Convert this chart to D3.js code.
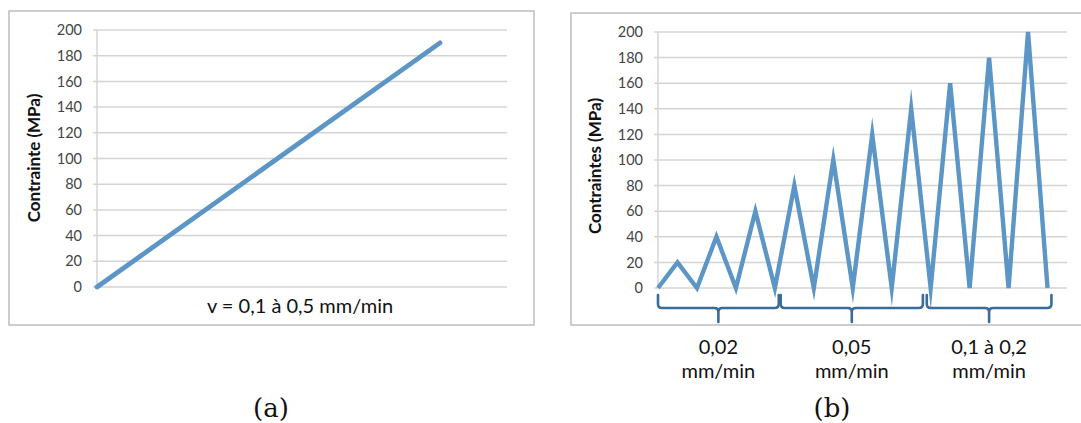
<!DOCTYPE html>
<html><head><meta charset="utf-8">
<script src="https://cdn.jsdelivr.net/npm/d3@7"></script>
<style>body{margin:0;background:#fff}svg{display:block}</style>
</head><body>
<svg id="c" width="1081" height="423"></svg>
<script>
// ---- data ----
const yTicks = [0,20,40,60,80,100,120,140,160,180,200];
const pointsA = [0, 1];
const stressA = [0, 190];
const labelA = "v = 0,1 à 0,5 mm/min";
const titleA = "Contrainte (MPa)";
const stressB = [0,20,0,40,0,60,0,80,0,100,0,120,0,140,0,160,0,180,0,200,0];
const titleB = "Contraintes (MPa)";
const groupNames = ["0,02", "0,05", "0,1 à 0,2"];
const groupUnits = ["mm/min", "mm/min", "mm/min"];
const groupStart = [0, 6.3, 13.8];
const groupEnd = [6.2, 13.6, 20.2];
const captions = ["(a)", "(b)"];

const svg = d3.select("#c");
const lineCol = "#5b96c6", gridCol = "#d4d4d4", frameCol = "#bdbdbd", tickCol = "#444";
const sans = "Lato, 'Open Sans', sans-serif";

function panel(o){
  const g = svg.append("g");
  g.append("rect").attr("x",o.fx).attr("y",o.fy).attr("width",o.fw).attr("height",o.fh)
    .attr("fill","none").attr("stroke",frameCol).attr("stroke-width",1.5);
  const y = d3.scaleLinear().domain([0,200]).range([o.y0,o.y1]);
  g.selectAll(".gl").data(yTicks).join("line")
    .attr("x1",o.ax-4).attr("x2",o.gx2).attr("y1",d=>y(d)).attr("y2",d=>y(d))
    .attr("stroke",gridCol).attr("stroke-width",1.5);
  g.append("line").attr("x1",o.ax).attr("x2",o.ax).attr("y1",y(0)).attr("y2",y(200))
    .attr("stroke",gridCol).attr("stroke-width",1.5);
  const ax = d3.axisLeft(y).tickValues(yTicks).tickSize(0).tickPadding(o.ax-o.lx);
  const axg = g.append("g").attr("transform",`translate(${o.ax},0)`).call(ax);
  axg.select(".domain").remove();
  axg.selectAll("text").attr("font-family",sans).attr("font-size",14.5).attr("fill",tickCol);
  g.append("text").attr("transform",`translate(${o.tx},${o.ty}) rotate(-90)`)
    .attr("text-anchor","middle").attr("dominant-baseline","middle")
    .attr("font-family",sans).attr("font-weight","bold").attr("font-size",17).attr("fill","#111")
    .text(o.title);
  return {g,y};
}

// ---- panel a ----
const A = panel({fx:9,fy:11,fw:525,fh:314,y0:287,y1:30,ax:97,lx:82,gx2:507,tx:36,ty:158,title:titleA});
const xA = d3.scaleLinear().domain([0,1]).range([97,440]);
A.g.append("path").datum(pointsA.map((p,i)=>[p,stressA[i]]))
  .attr("d",d3.line().x(d=>xA(d[0])).y(d=>A.y(d[1])))
  .attr("fill","none").attr("stroke",lineCol).attr("stroke-width",4.8).attr("stroke-linecap","round");
A.g.append("text").attr("x",300).attr("y",313).attr("text-anchor","middle")
  .attr("font-family",sans).attr("font-size",20).attr("fill","#111").text(labelA);

// ---- panel b ----
const B = panel({fx:571,fy:13,fw:520,fh:312,y0:288,y1:32,ax:658,lx:643,gx2:1067,tx:597,ty:166,title:titleB});
const xB = d3.scaleLinear().domain([0,21]).range([658,1067]);
B.g.append("path").datum(stressB)
  .attr("d",d3.line().x((d,i)=>xB(i)).y(d=>B.y(d)))
  .attr("fill","none").attr("stroke",lineCol).attr("stroke-width",4.4).attr("stroke-linejoin","miter").attr("stroke-miterlimit",10);

// braces
const bTop = 295, bMid = 308, bBot = 322, r = 4;
groupNames.forEach((name,i)=>{
  const x1 = xB(groupStart[i]), x2 = xB(groupEnd[i]), xc = (x1+x2)/2;
  const p = d3.path();
  p.moveTo(x1,bTop); p.lineTo(x1,bMid-r); p.quadraticCurveTo(x1,bMid,x1+r,bMid);
  p.lineTo(xc-r,bMid); p.quadraticCurveTo(xc,bMid,xc,bMid+r); p.lineTo(xc,bBot);
  p.moveTo(xc,bMid+r); p.quadraticCurveTo(xc,bMid,xc+r,bMid);
  p.lineTo(x2-r,bMid); p.quadraticCurveTo(x2,bMid,x2,bMid-r); p.lineTo(x2,bTop);
  svg.append("path").attr("d",p.toString()).attr("fill","none")
    .attr("stroke","#3b6c99").attr("stroke-width",2.6).attr("stroke-linecap","round");
  svg.append("text").attr("x",xc).attr("y",354).attr("text-anchor","middle")
    .attr("font-family",sans).attr("font-size",20).attr("fill","#111").text(name);
  svg.append("text").attr("x",xc).attr("y",378).attr("text-anchor","middle")
    .attr("font-family",sans).attr("font-size",20).attr("fill","#111").text(groupUnits[i]);
});

// captions
[271, 832].forEach((cx,i)=>{
  svg.append("text").attr("x",cx).attr("y",417).attr("text-anchor","middle")
    .attr("font-family","'DejaVu Serif','Liberation Serif',serif").attr("font-size",26).attr("fill","#111")
    .text(captions[i]);
});
</script>
</body></html>
